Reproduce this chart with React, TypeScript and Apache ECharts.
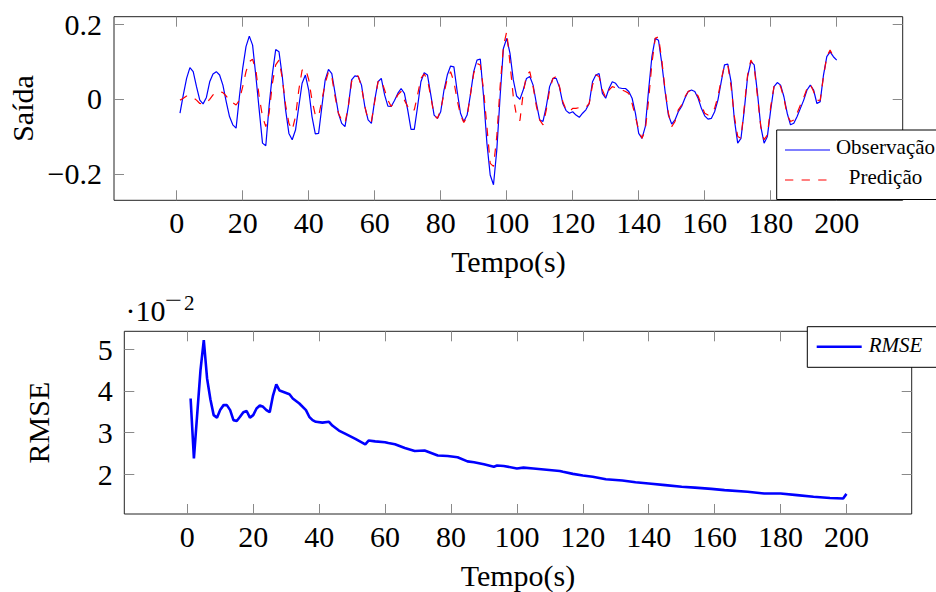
import React, { useEffect, useRef } from "react";
import * as echarts from "echarts";

// ---------- data ----------
const observacao = [
  -0.038, 0.011, 0.055, 0.084, 0.073, 0.033, -0.003, -0.013, 0.004, 0.046,
  0.067, 0.073, 0.064, 0.037, -0.007, -0.047, -0.069, -0.078, 0.006, 0.082,
  0.14, 0.168, 0.144, 0.06, -0.029, -0.118, -0.125, -0.019, 0.067, 0.132,
  0.126, 0.06, -0.029, -0.092, -0.109, -0.083, -0.02, 0.042, 0.064, 0.024,
  -0.047, -0.093, -0.092, -0.02, 0.051, 0.079, 0.068, 0.015, -0.038, -0.065,
  -0.074, -0.02, 0.051, 0.062, 0.06, 0.037, -0.02, -0.056, -0.065, -0.003,
  0.046, 0.055, 0.011, -0.019, -0.02, -0.004, 0.015, 0.028, 0.015, -0.029,
  -0.081, -0.081, -0.02, 0.046, 0.07, 0.064, 0.011, -0.043, -0.052, -0.034,
  0.024, 0.064, 0.088, 0.086, 0.02, -0.038, -0.06, -0.043, 0.011, 0.073,
  0.104, 0.107, 0.006, -0.118, -0.203, -0.229, -0.136, 0.006, 0.135, 0.162,
  0.122, 0.051, 0.008, -0.001, 0.024, 0.055, 0.06, 0.037, -0.012, -0.056,
  -0.06, -0.02, 0.033, 0.055, 0.055, 0.031, -0.012, -0.031, -0.038, -0.034,
  -0.043, -0.049, -0.038, -0.029, -0.012, 0.046, 0.064, 0.068, 0.015, 0.002,
  0.028, 0.046, 0.042, 0.03, 0.028, 0.028, 0.02, 0.002, -0.038, -0.092,
  -0.105, -0.074, 0.024, 0.113, 0.162, 0.157, 0.095, 0.02, -0.043, -0.067,
  -0.056, -0.034, -0.02, 0.002, 0.02, 0.024, 0.02, 0.002, -0.025, -0.045,
  -0.054, -0.052, -0.034, -0.003, 0.046, 0.091, 0.093, 0.046, -0.056, -0.118,
  -0.105, -0.029, 0.06, 0.1, 0.091, 0.015, -0.074, -0.118, -0.1, -0.029,
  0.033, 0.044, 0.037, 0.006, -0.038, -0.069, -0.065, -0.047, -0.025, -0.003,
  0.024, 0.037, 0.024, -0.012, -0.007, 0.064, 0.113, 0.126, 0.113, 0.104,
];

const predicao = [
  -0.003, 0.002, 0.008, 0.008, 0.004, -0.003, -0.012, -0.013, -0.01, -0.001,
  0.011, 0.017, 0.02, 0.017, 0.008, -0.003, -0.01, -0.016, -0.003, 0.033,
  0.073, 0.1, 0.106, 0.077, 0.006, -0.047, -0.074, -0.038, 0.042, 0.091,
  0.104, 0.055, -0.016, -0.065, -0.083, -0.047, 0.024, 0.077, 0.082, 0.052,
  -0.003, -0.043, -0.047, -0.003, 0.042, 0.073, 0.06, 0.006, -0.038, -0.056,
  -0.065, -0.02, 0.046, 0.064, 0.061, 0.033, -0.02, -0.056, -0.06, -0.007,
  0.046, 0.051, 0.024, -0.003, -0.02, -0.007, 0.011, 0.02, -0.003, -0.02,
  -0.034, -0.029, 0.011, 0.055, 0.067, 0.051, 0.006, -0.043, -0.052, -0.029,
  0.015, 0.055, 0.073, 0.046, -0.003, -0.043, -0.063, -0.047, 0.011, 0.068,
  0.095, 0.091, 0.024, -0.074, -0.172, -0.18, -0.1, 0.033, 0.14, 0.18,
  0.095, 0.006, -0.047, -0.058, 0.015, 0.064, 0.073, 0.033, -0.02, -0.056,
  -0.069, -0.029, 0.024, 0.055, 0.06, 0.033, -0.007, -0.029, -0.034, -0.025,
  -0.025, -0.023, -0.023, -0.022, -0.012, 0.037, 0.064, 0.06, 0.024, 0.004,
  0.024, 0.033, 0.03, 0.028, 0.024, 0.02, 0.015, -0.012, -0.047, -0.083,
  -0.105, -0.083, -0.003, 0.095, 0.162, 0.166, 0.104, 0.024, -0.038, -0.074,
  -0.06, -0.029, -0.016, 0.006, 0.02, 0.024, 0.017, 0.008, -0.016, -0.038,
  -0.043, -0.038, -0.025, 0.006, 0.051, 0.091, 0.091, 0.033, -0.047, -0.1,
  -0.105, -0.02, 0.064, 0.104, 0.086, 0.006, -0.074, -0.109, -0.096, -0.02,
  0.033, 0.044, 0.033, 0.002, -0.043, -0.06, -0.056, -0.038, -0.016, 0.004,
  0.028, 0.04, 0.02, -0.004, -0.003, 0.06, 0.113, 0.131, 0.113, 0.104,
];

const rmseTime = [
  1, 2, 4, 5, 6, 7, 8, 9, 10, 11,
  12, 13, 14, 15, 16, 17, 18, 19, 20, 21,
  22, 23, 24, 25, 26, 27, 28, 29, 31, 32,
  34, 36, 37, 38, 39, 41, 43, 44, 46, 48,
  51, 54, 55, 57, 60, 61, 63, 66, 69, 72,
  74, 76, 79, 82, 85, 87, 90, 93, 94, 96,
  100, 102, 105, 109, 113, 114, 117, 120, 123, 127,
  132, 136, 140, 145, 150, 154, 159, 163, 170, 175,
  180, 185, 190, 195, 199, 200,
];
const rmseValue = [
  3.82, 2.38, 4.5, 5.22, 4.3, 3.8, 3.42, 3.36, 3.55, 3.66,
  3.66, 3.54, 3.3, 3.28, 3.38, 3.49, 3.52, 3.36, 3.42, 3.58,
  3.65, 3.62, 3.54, 3.49, 3.89, 4.16, 4.01, 3.98, 3.92, 3.82,
  3.7, 3.54, 3.38, 3.3, 3.26, 3.24, 3.26, 3.17, 3.05, 2.97,
  2.85, 2.72, 2.81, 2.79, 2.77, 2.75, 2.72, 2.63, 2.56, 2.57,
  2.51, 2.45, 2.44, 2.41, 2.31, 2.29, 2.24, 2.18, 2.21, 2.2,
  2.14, 2.16, 2.14, 2.11, 2.08, 2.06, 2.01, 1.97, 1.94, 1.88,
  1.85, 1.81, 1.78, 1.74, 1.7, 1.68, 1.65, 1.62, 1.58, 1.54,
  1.54, 1.5, 1.46, 1.43, 1.42, 1.53,
];

const xTicks = [0, 20, 40, 60, 80, 100, 120, 140, 160, 180, 200];
const yTicksTop = [-0.2, 0, 0.2];
const yTicksBottom = [2, 3, 4, 5];

// ---------- styling ----------
const FONT = "Liberation Serif";
const TICK_COLOR = "#8a8a8a";
const FRAME_COLOR = "#222";

function fmtSigned(v: number): string {
  if (v === 0) return "0";
  return v < 0 ? "\u2212" + String(Math.abs(v)) : String(v);
}

function makeXAxes(gridIndex: number, min: number, max: number) {
  const tick = {
    show: true,
    inside: true,
    length: 10,
    customValues: xTicks,
    lineStyle: { color: TICK_COLOR, width: 1 },
  };
  return [
    {
      type: "value",
      gridIndex,
      min,
      max,
      position: "bottom",
      axisLine: { show: false, onZero: false },
      splitLine: { show: false },
      axisTick: tick,
      axisLabel: {
        show: true,
        customValues: xTicks,
        margin: 22,
        verticalAlign: "middle",
        fontSize: 30,
        fontFamily: FONT,
        color: "#000",
      },
    },
    {
      type: "value",
      gridIndex,
      min,
      max,
      position: "top",
      axisLine: { show: false, onZero: false },
      splitLine: { show: false },
      axisTick: tick,
      axisLabel: { show: false },
    },
  ];
}

function makeYAxes(
  gridIndex: number,
  min: number,
  max: number,
  ticks: number[],
  margin: number,
  formatter: (v: number) => string
) {
  const tick = {
    show: true,
    inside: true,
    length: 10,
    customValues: ticks,
    lineStyle: { color: TICK_COLOR, width: 1 },
  };
  return [
    {
      type: "value",
      gridIndex,
      min,
      max,
      position: "left",
      axisLine: { show: false, onZero: false },
      splitLine: { show: false },
      axisTick: tick,
      axisLabel: {
        show: true,
        customValues: ticks,
        margin,
        fontSize: 30,
        fontFamily: FONT,
        color: "#000",
        formatter,
      },
    },
    {
      type: "value",
      gridIndex,
      min,
      max,
      position: "right",
      axisLine: { show: false, onZero: false },
      splitLine: { show: false },
      axisTick: tick,
      axisLabel: { show: false },
    },
  ];
}

function buildOption() {
  const obsData = observacao.map((v, i) => [i + 1, v]);
  const predData = predicao.map((v, i) => [i + 1, v]);
  const rmseData = rmseTime.map((t, i) => [t, rmseValue[i]]);

  const textStyle = (size: number, extra: any = {}) => ({
    fontSize: size,
    fontFamily: FONT,
    fill: "#000",
    align: "center",
    verticalAlign: "middle",
    ...extra,
  });

  return {
    animation: false,
    backgroundColor: "#fff",
    textStyle: { fontFamily: FONT },
    grid: [
      {
        left: 114,
        top: 16.7,
        width: 788.7,
        height: 183.6,
        show: true,
        borderColor: FRAME_COLOR,
        borderWidth: 1,
        backgroundColor: "transparent",
      },
      {
        left: 124.3,
        top: 331.3,
        width: 787.4,
        height: 182.7,
        show: true,
        borderColor: FRAME_COLOR,
        borderWidth: 1,
        backgroundColor: "transparent",
      },
    ],
    xAxis: [...makeXAxes(0, -19.0, 220.0), ...makeXAxes(1, -19.12, 219.8)],
    yAxis: [
      ...makeYAxes(0, -0.2707, 0.2199, yTicksTop, 12, fmtSigned),
      ...makeYAxes(1, 1.047, 5.432, yTicksBottom, 11.6, (v: number) => String(v)),
    ],
    series: [
      {
        name: "Observação",
        type: "line",
        xAxisIndex: 0,
        yAxisIndex: 0,
        data: obsData,
        showSymbol: false,
        symbol: "none",
        lineStyle: { color: "#0000ff", width: 1.2 },
        z: 3,
      },
      {
        name: "Predição",
        type: "line",
        xAxisIndex: 0,
        yAxisIndex: 0,
        data: predData,
        showSymbol: false,
        symbol: "none",
        lineStyle: { color: "#ff0000", width: 1.2, type: [8.3, 8.3] },
        z: 4,
      },
      {
        name: "RMSE",
        type: "line",
        xAxisIndex: 2,
        yAxisIndex: 2,
        data: rmseData,
        showSymbol: false,
        symbol: "none",
        lineStyle: { color: "#0000ff", width: 2.6 },
      },
    ],
    graphic: [
      // axis titles
      { type: "text", x: 22.5, y: 108.5, rotation: Math.PI / 2, style: { text: "Saída", ...textStyle(30) } },
      { type: "text", x: 508.4, y: 261.5, style: { text: "Tempo(s)", ...textStyle(30) } },
      { type: "text", x: 38, y: 422.6, rotation: Math.PI / 2, style: { text: "RMSE", ...textStyle(30) } },
      { type: "text", x: 518, y: 575.5, style: { text: "Tempo(s)", ...textStyle(30) } },
      // scale factor ·10^-2
      { type: "text", x: 125.5, y: 310.2, style: { text: "·10", ...textStyle(30, { align: "left" }) } },
      {
        type: "text",
        x: 173.3,
        y: 300.2,
        scaleX: 1.45,
        style: { text: "\u2212", ...textStyle(21) },
      },
      { type: "text", x: 184, y: 302.6, style: { text: "2", ...textStyle(21, { align: "left" }) } },
      // legend (top)
      {
        type: "rect",
        z: 100,
        shape: { x: 776.7, y: 130, width: 175, height: 69.5 },
        style: { fill: "#fff", stroke: "#000", lineWidth: 1 },
      },
      {
        type: "line",
        z: 101,
        shape: { x1: 785, y1: 150, x2: 830, y2: 150 },
        style: { stroke: "#0000ff", lineWidth: 1.2 },
      },
      { type: "text", z: 101, x: 885.5, y: 147, style: { text: "Observação", ...textStyle(21) } },
      {
        type: "line",
        z: 101,
        shape: { x1: 785, y1: 180, x2: 830, y2: 180 },
        style: { stroke: "#ff0000", lineWidth: 1.2, lineDash: [8.3, 8.3] },
      },
      { type: "text", z: 101, x: 885.5, y: 177, style: { text: "Predição", ...textStyle(21) } },
      // legend (bottom)
      {
        type: "rect",
        z: 100,
        shape: { x: 807.3, y: 326.7, width: 140, height: 40.6 },
        style: { fill: "#fff", stroke: "#000", lineWidth: 1 },
      },
      {
        type: "line",
        z: 101,
        shape: { x1: 816.7, y1: 346.7, x2: 861.7, y2: 346.7 },
        style: { stroke: "#0000ff", lineWidth: 2.6 },
      },
      {
        type: "text",
        z: 101,
        x: 895.5,
        y: 345,
        style: { text: "RMSE", ...textStyle(21, { fontStyle: "italic" }) },
      },
    ],
  };
}

export default function App() {
  const ref = useRef<HTMLDivElement>(null);
  useEffect(() => {
    document.body.style.margin = "0";
    if (!ref.current) return;
    const chart = echarts.init(ref.current, null, { renderer: "svg" });
    chart.setOption(buildOption() as any);
    return () => chart.dispose();
  }, []);
  return <div ref={ref} style={{ width: 936, height: 592, background: "#fff" }} />;
}
